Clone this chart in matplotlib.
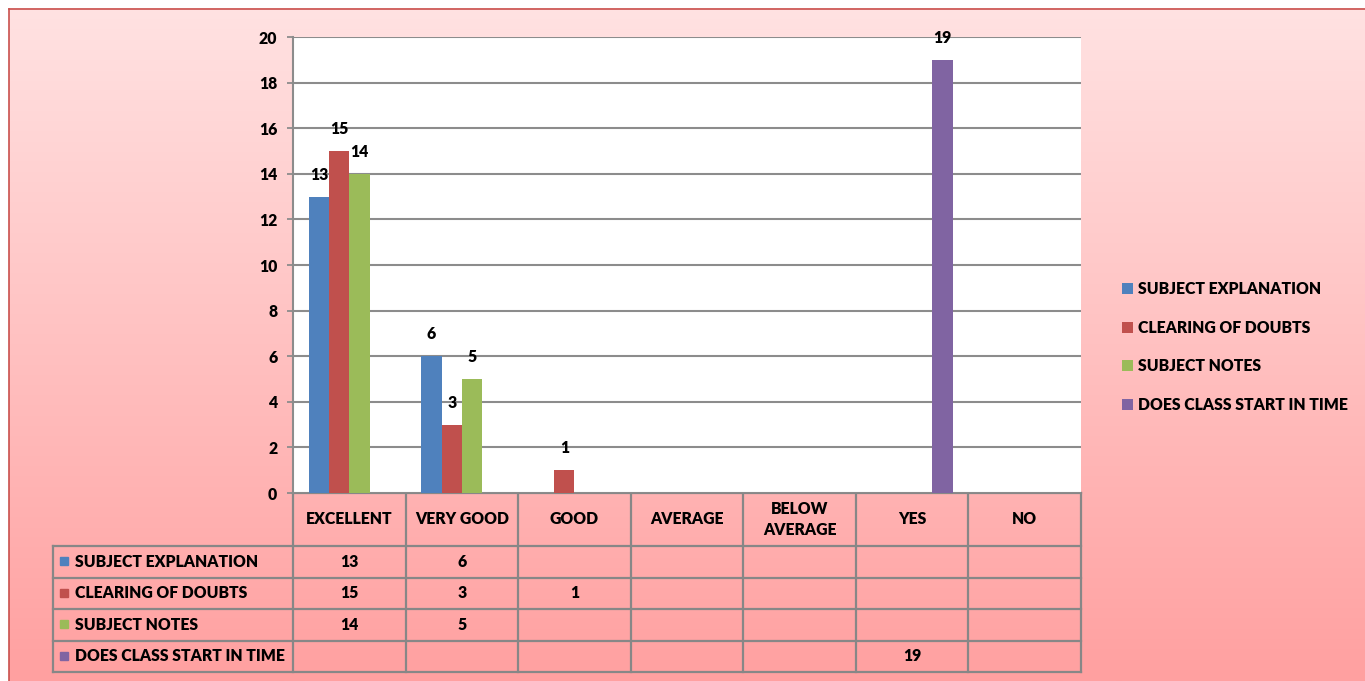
import numpy as np
import matplotlib
matplotlib.use("Agg")
import matplotlib.pyplot as plt
from matplotlib.patches import Rectangle

plt.rcParams['font.family'] = ['Lato', 'DejaVu Sans']
plt.rcParams['font.weight'] = 'heavy'
FS = 11.3
WT = 'heavy'

# data
categories = ["EXCELLENT", "VERY GOOD", "GOOD", "AVERAGE", "BELOW\nAVERAGE", "YES", "NO"]
series_names = ["SUBJECT EXPLANATION", "CLEARING OF DOUBTS", "SUBJECT NOTES",
                "DOES CLASS START IN TIME"]
subject_explanation = [13, 6, None, None, None, None, None]
clearing_of_doubts = [15, 3, 1, None, None, None, None]
subject_notes = [14, 5, None, None, None, None, None]
class_start_in_time = [None, None, None, None, None, 19, None]
series_values = [subject_explanation, clearing_of_doubts, subject_notes, class_start_in_time]
series_colors = ["#4F81BD", "#C0504D", "#9BBB59", "#8064A2"]
y_ticks = list(range(0, 21, 2))

W, H = 1365, 681
fig = plt.figure(figsize=(W / 100, H / 100), dpi=100)
fig.patch.set_facecolor("white")

# background with pink gradient, pixel coordinates
bg = fig.add_axes([0, 0, 1, 1], zorder=0)
bg.set_xlim(0, W)
bg.set_ylim(H, 0)
bg.axis("off")
top_col = np.array([255, 226, 226]) / 255
bot_col = np.array([255, 160, 160]) / 255
t = np.linspace(0, 1, 256)[:, None]
grad = (top_col * (1 - t) + bot_col * t)[:, None, :]
bg.imshow(grad, extent=(8.5, W, H, 8.5), aspect="auto", zorder=0)
bg.plot([8.5, W], [8.5, 8.5], color="#C9504D", lw=1.2, zorder=1)
bg.plot([8.5, 8.5], [8.5, H], color="#C9504D", lw=1.2, zorder=1)

# plot area
px_l, px_r, px_t, px_b = 293, 1081, 37, 493
ax = fig.add_axes([px_l / W, (H - px_b) / H, (px_r - px_l) / W, (px_b - px_t) / H], zorder=2)
ax.set_facecolor("white")

n = len(categories)
x = np.arange(n)
bw = 0.18
handles = []
for i, (vals, col) in enumerate(zip(series_values, series_colors)):
    v = np.array([np.nan if a is None else a for a in vals], dtype=float)
    bars = ax.bar(x + (i - 1.5) * bw, np.nan_to_num(v), width=bw, color=col,
                  edgecolor="none", zorder=3, label=series_names[i])
    handles.append(bars)
    for xi, val in zip(x, vals):
        if val is not None:
            ax.annotate(str(val), (xi + (i - 1.5) * bw, val), xytext=(0, 10),
                        textcoords="offset points", ha="center", va="bottom",
                        fontsize=FS, fontweight=WT, color="black", zorder=4)

ax.set_xlim(-0.5, n - 0.5)
ax.set_ylim(0, 20)
ax.set_yticks(y_ticks)
ax.set_yticklabels([str(v) for v in y_ticks], fontweight=WT)
ax.set_xticks([])
ax.yaxis.grid(True, color="#8C8C8C", lw=1.5, zorder=1)
ax.tick_params(axis="y", length=4.3, width=1.3, color="#8C8C8C", pad=7, labelsize=FS)
for s in ["top", "right", "bottom"]:
    ax.spines[s].set_visible(False)
ax.spines["left"].set_color("#8C8C8C")
ax.spines["left"].set_linewidth(1.5)

# legend
fig.legend(handles=handles, labels=series_names, loc="center left",
           bbox_to_anchor=(1108 / W, 1 - 347 / H), frameon=False,
           handlelength=0.7, handleheight=0.7, handletextpad=0.3,
           labelspacing=1.45, prop={"weight": WT, "size": FS})

# data table below the plot
col_x = [px_l + i * (px_r - px_l) / n for i in range(n + 1)]
row_y = [493, 546, 577.5, 609, 640.5, 672]
tab_left = 53
line_kw = dict(color="#878787", lw=1.6, zorder=3)
for yy in row_y:
    x0 = px_l if yy == row_y[0] else tab_left
    bg.plot([x0, px_r], [yy, yy], **line_kw)
for xx in col_x:
    bg.plot([xx, xx], [row_y[0], row_y[-1]], **line_kw)
bg.plot([tab_left, tab_left], [row_y[1], row_y[-1]], **line_kw)

for j, cat in enumerate(categories):
    cx = (col_x[j] + col_x[j + 1]) / 2
    bg.text(cx, (row_y[0] + row_y[1]) / 2, cat, ha="center", va="center",
            fontsize=FS, fontweight=WT, linespacing=1.45, zorder=4)

for i, (name, vals, col) in enumerate(zip(series_names, series_values, series_colors)):
    cy = (row_y[i + 1] + row_y[i + 2]) / 2
    bg.add_patch(Rectangle((60, cy - 4.5), 8, 8, color=col, zorder=4))
    bg.text(75, cy, name, ha="left", va="center", fontsize=FS, fontweight=WT, zorder=4)
    for j, val in enumerate(vals):
        if val is not None:
            cx = (col_x[j] + col_x[j + 1]) / 2
            bg.text(cx, cy, str(val), ha="center", va="center",
                    fontsize=FS, fontweight=WT, zorder=4)

fig.savefig("out.png", dpi=100, facecolor=fig.get_facecolor())
